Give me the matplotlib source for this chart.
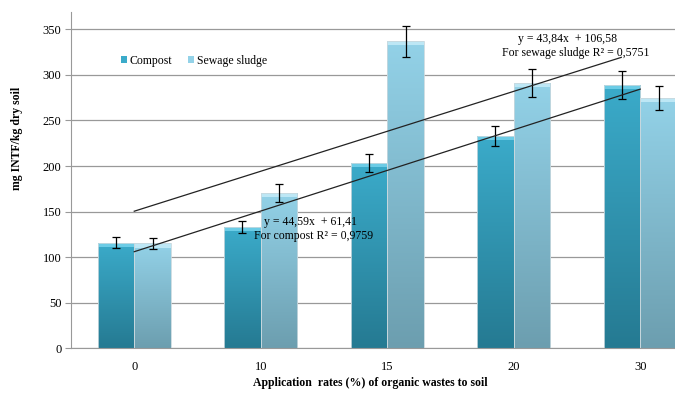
import numpy as np
import matplotlib
matplotlib.use("Agg")
import matplotlib.pyplot as plt
from matplotlib.colors import LinearSegmentedColormap
from matplotlib.patches import Rectangle

plt.rcParams['font.family'] = ['Liberation Serif', 'DejaVu Serif']

categories = ["0", "10", "15", "20", "30"]
compost = [116, 133, 203, 233, 289]
compost_err = [6, 7, 10, 11, 15]
sludge = [115, 170, 337, 291, 275]
sludge_err = [6, 10, 17, 15, 13]
compost_fit = (44.59, 61.41)
sludge_fit = (43.84, 106.58)
compost_fit_range = [1, 5]
sludge_fit_range = [1, 4.85]
compost_label = ["y = 44,59x  + 61,41", "For compost R\u00b2 = 0,9759"]
sludge_label = ["y = 43,84x  + 106,58", "For sewage sludge R\u00b2 = 0,5751"]

W, H = 675, 394
fig = plt.figure(figsize=(W/100, H/100), dpi=100)
ax = fig.add_axes([71/W, (H-348.3)/H, 632.5/W, 336.3/H])

x = np.arange(len(categories))
bw = 0.29
ymax = 369

def grad_bars(xs, vals, top, bottom, cap, label):
    bars = ax.bar(xs, vals, bw, color=top, label=label, zorder=2,
                  edgecolor='none')
    cmap = LinearSegmentedColormap.from_list('g', [bottom, top])
    grad = np.linspace(0, 1, 256).reshape(-1, 1)
    for b in bars:
        x0, y0 = b.get_x(), b.get_y()
        w, h = b.get_width(), b.get_height()
        im = ax.imshow(grad, cmap=cmap, origin='lower', aspect='auto',
                       extent=[x0, x0 + w, y0, y0 + h], zorder=2.1)
        im.set_clip_path(b)
        ax.add_patch(Rectangle((x0, y0 + h - 4.5), w, 4.5, color=cap,
                               lw=0, zorder=2.2))
        ax.add_patch(Rectangle((x0, y0), w, h, fill=False, ec='#c8d8de',
                               lw=0.6, zorder=2.3))
    return bars

grad_bars(x - bw/2, compost, '#3BABCA', '#257A92', '#6CCCE6', 'Compost')
grad_bars(x + bw/2, sludge, '#93D2E8', '#6C9EAF', '#BDE7F5', 'Sewage sludge')

ax.errorbar(x - bw/2, compost, yerr=compost_err, fmt='none', ecolor='black',
            elinewidth=0.9, capsize=3, capthick=0.9, zorder=4)
ax.errorbar(x + bw/2, sludge, yerr=sludge_err, fmt='none', ecolor='black',
            elinewidth=0.9, capsize=3, capthick=0.9, zorder=4)

for (a, b), rng in [(compost_fit, compost_fit_range), (sludge_fit, sludge_fit_range)]:
    xx = np.array(rng, dtype=float)
    ax.plot(xx - 1, a*xx + b, color='#222222', lw=0.9, zorder=5)

ax.set_xlim(-0.5, 4.5)
ax.set_ylim(0, ymax)
ax.set_yticks(np.arange(0, 351, 50))
ax.set_xticks(x)
ax.set_xticklabels(categories)
ax.yaxis.grid(True, color='#999999', lw=0.9, zorder=0)
ax.set_axisbelow(True)
for s in ['top', 'right']:
    ax.spines[s].set_visible(False)
ax.spines['left'].set_color('#999999')
ax.spines['bottom'].set_color('#999999')
ax.tick_params(axis='x', length=0, pad=9, labelsize=9)
ax.tick_params(axis='y', length=4, color='#999999', pad=3, labelsize=9)

fig.text(17/W, 1 - 138/H, "mg INTF/kg dry soil", rotation=90, ha='center',
         va='center', fontsize=8.5, fontweight='bold')
fig.text(370/W, 1 - 383/H, "Application  rates (%) of organic wastes to soil",
         ha='center', va='center', fontsize=8.5, fontweight='bold')

fig.text(568/W, 1 - 39/H, sludge_label[0], ha='center', va='center', fontsize=8.5)
fig.text(576/W, 1 - 53/H, sludge_label[1], ha='center', va='center', fontsize=8.5)
fig.text(310/W, 1 - 222/H, compost_label[0], ha='center', va='center', fontsize=8.5)
fig.text(314/W, 1 - 236/H, compost_label[1], ha='center', va='center', fontsize=8.5)

leg = fig.legend(loc='center left', bbox_to_anchor=(121/W, 1 - 61/H), ncol=2,
                 frameon=False, fontsize=8.5, handlelength=0.5, handleheight=0.5,
                 handletextpad=0.2, columnspacing=1.4, borderaxespad=0, borderpad=0)

fig.savefig("out.png", dpi=100)
